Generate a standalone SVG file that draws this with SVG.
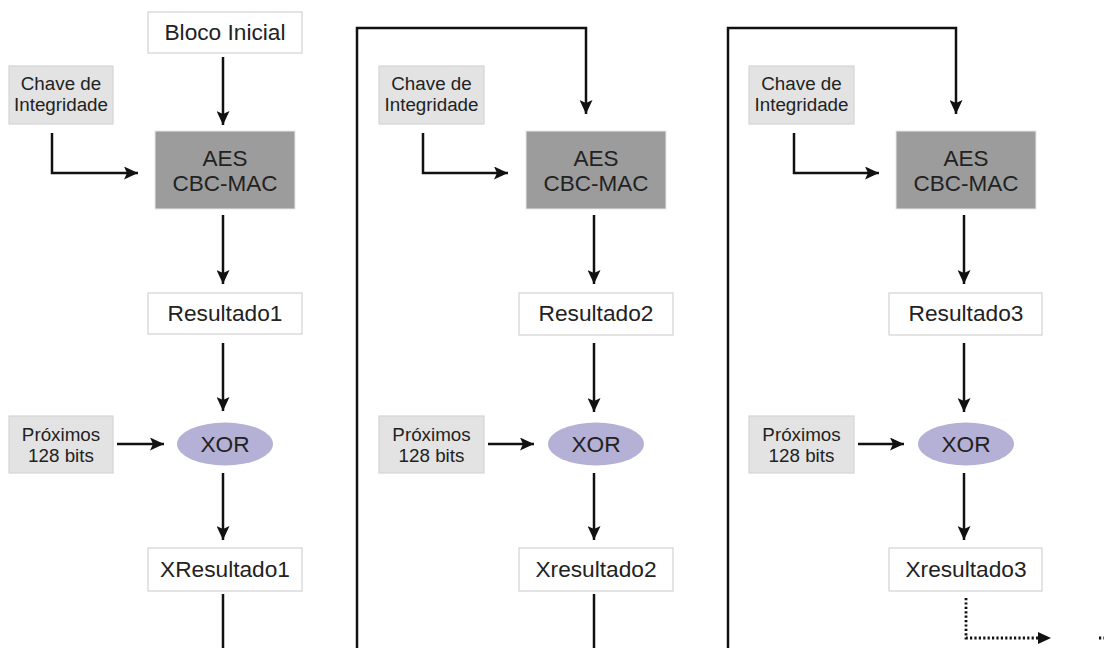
<svg xmlns="http://www.w3.org/2000/svg" width="1104" height="648" viewBox="0 0 1104 648">
<defs>
<marker id="ah" markerUnits="userSpaceOnUse" markerWidth="15" markerHeight="13" refX="14" refY="6.5" orient="auto">
<path d="M0,0 L14,6.5 L0,13 L3,6.5 Z" fill="#111"/>
</marker>
</defs>
<style>
.wb{fill:#ffffff;stroke:#d2d2d2;stroke-width:1.2}
.gb{fill:#e3e3e3;stroke:#d4d4d4;stroke-width:1.2}
.aes{fill:#9c9c9c;stroke:#e8e8e8;stroke-width:1}
.xor{fill:#b5b1d6}
.t{font-family:"Liberation Sans",Arial,sans-serif;fill:#222;text-anchor:middle}
.big{font-size:22.7px}
.aest{font-size:22.5px}
.sm{font-size:18.8px}
.ln{fill:none;stroke:#111;stroke-width:2.5}
.ar{fill:none;stroke:#111;stroke-width:2.5;marker-end:url(#ah)}
.dot{fill:none;stroke:#111;stroke-width:2.8;stroke-dasharray:2.2 2.2}
</style>
<rect width="1104" height="648" fill="#ffffff"/>

<g id="bloco-inicial"><rect class="wb" x="148" y="12" width="154" height="41"/><text class="t big" x="225" y="40">Bloco Inicial</text></g>

<g id="chave1"><rect class="gb" x="9" y="66" width="104" height="58"/><text class="t sm" x="61" y="90">Chave de</text><text class="t sm" x="61" y="111">Integridade</text></g>
<g id="aes1"><rect class="aes" x="155" y="131" width="140" height="78"/><text class="t aest" x="225" y="166">AES</text><text class="t aest" x="225" y="191">CBC-MAC</text></g>
<g id="resultado1"><rect class="wb" x="148" y="293" width="154" height="41"/><text class="t big" x="225" y="321">Resultado1</text></g>
<g id="proximos1"><rect class="gb" x="9" y="416" width="104" height="57"/><text class="t sm" x="61" y="441">Próximos</text><text class="t sm" x="61" y="462">128 bits</text></g>
<g id="xor1"><ellipse class="xor" cx="225" cy="444" rx="48" ry="21.5"/><text class="t big" x="225" y="452">XOR</text></g>
<g id="xresultado1"><rect class="wb" x="148" y="548" width="154" height="43"/><text class="t big" x="225" y="577">XResultado1</text></g>

<g id="chave2"><rect class="gb" x="379" y="66" width="105" height="58"/><text class="t sm" x="431.5" y="90">Chave de</text><text class="t sm" x="431.5" y="111">Integridade</text></g>
<g id="aes2"><rect class="aes" x="526" y="131" width="140" height="78"/><text class="t aest" x="596" y="166">AES</text><text class="t aest" x="596" y="191">CBC-MAC</text></g>
<g id="resultado2"><rect class="wb" x="519" y="293" width="154" height="42"/><text class="t big" x="596" y="321">Resultado2</text></g>
<g id="proximos2"><rect class="gb" x="379" y="416" width="105" height="57"/><text class="t sm" x="431.5" y="441">Próximos</text><text class="t sm" x="431.5" y="462">128 bits</text></g>
<g id="xor2"><ellipse class="xor" cx="596" cy="444" rx="48" ry="21.5"/><text class="t big" x="596" y="452">XOR</text></g>
<g id="xresultado2"><rect class="wb" x="519" y="548" width="154" height="43"/><text class="t big" x="596" y="577">Xresultado2</text></g>

<g id="chave3"><rect class="gb" x="749" y="66" width="105" height="58"/><text class="t sm" x="801.5" y="90">Chave de</text><text class="t sm" x="801.5" y="111">Integridade</text></g>
<g id="aes3"><rect class="aes" x="896" y="131" width="140" height="78"/><text class="t aest" x="966" y="166">AES</text><text class="t aest" x="966" y="191">CBC-MAC</text></g>
<g id="resultado3"><rect class="wb" x="889" y="293" width="153" height="42"/><text class="t big" x="966" y="321">Resultado3</text></g>
<g id="proximos3"><rect class="gb" x="749" y="416" width="105" height="57"/><text class="t sm" x="801.5" y="441">Próximos</text><text class="t sm" x="801.5" y="462">128 bits</text></g>
<g id="xor3"><ellipse class="xor" cx="966" cy="444" rx="48" ry="21.5"/><text class="t big" x="966" y="452">XOR</text></g>
<g id="xresultado3"><rect class="wb" x="889" y="548" width="153" height="43"/><text class="t big" x="966" y="577">Xresultado3</text></g>

<g id="connectors">
<path class="ar" d="M223,57 V125"/>
<path class="ar" d="M52,133 V173 H138"/>
<path class="ar" d="M223,215 V284"/>
<path class="ar" d="M223,343 V411"/>
<path class="ar" d="M117,444 H164"/>
<path class="ar" d="M223,473 V540"/>
<path class="ln" d="M223,594 V648"/>

<path class="ar" d="M357,648 V28 H586 V114"/>
<path class="ar" d="M423,133 V173 H508"/>
<path class="ar" d="M594,215 V284"/>
<path class="ar" d="M594,343 V412"/>
<path class="ar" d="M488,444 H534"/>
<path class="ar" d="M594,473 V540"/>
<path class="ln" d="M594,594 V648"/>

<path class="ar" d="M728,648 V28 H956 V114"/>
<path class="ar" d="M794,133 V173 H879"/>
<path class="ar" d="M964,215 V284"/>
<path class="ar" d="M964,343 V412"/>
<path class="ar" d="M858,444 H904"/>
<path class="ar" d="M964,473 V540"/>
<path class="dot" d="M966,598 V638 H1040"/>
<path d="M1038,632 L1051,638 L1038,644 Z" fill="#111"/>
<path class="dot" d="M1099,638 H1104"/>
</g>
</svg>
